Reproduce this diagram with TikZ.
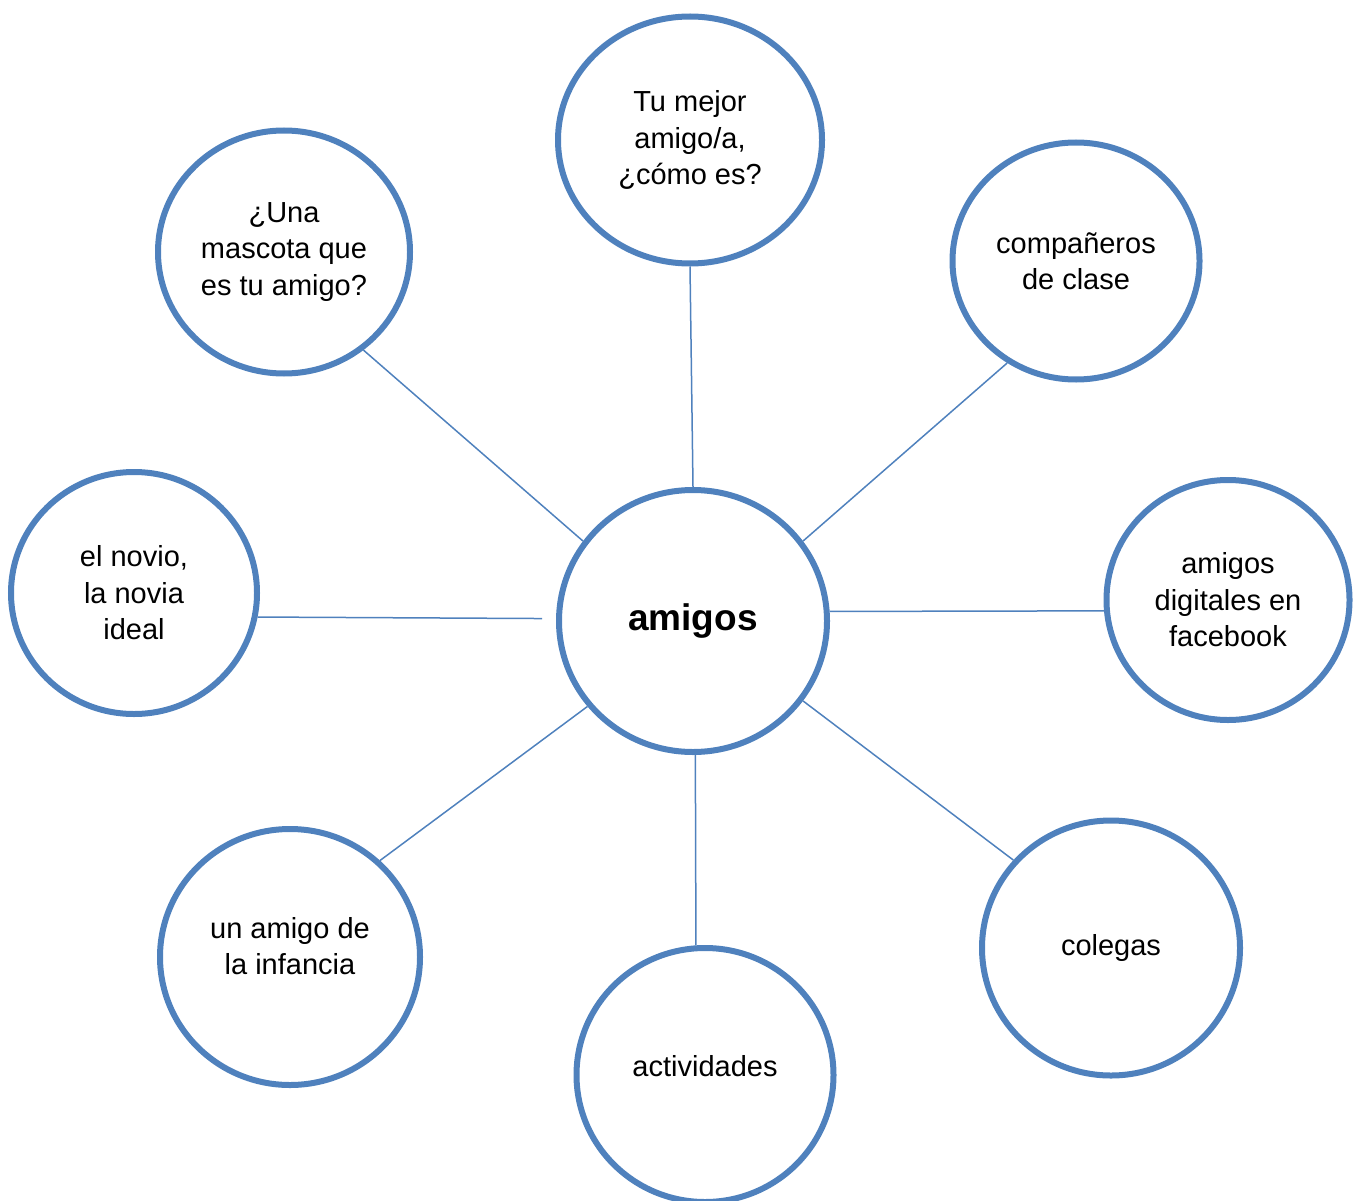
\documentclass[tikz,border=0pt]{standalone}
\usepackage{fontspec}
\setmainfont{Liberation Sans}
\usepackage{tikz}
\usetikzlibrary{shapes,positioning}
\definecolor{ringblue}{HTML}{4F81BD}
\tikzstyle{bubble} = [draw=ringblue, ellipse, line width=6pt, align=center, inner sep=0,
  font=\fontsize{29}{36.5}\selectfont]
\tikzstyle{hub} = [bubble, font=\fontsize{37}{44}\selectfont\bfseries]
\tikzstyle{link} = [draw=ringblue, line width=1.5pt]

\begin{document}
\begin{tikzpicture}[x=1pt, y=-1pt]
  \useasboundingbox (0,0) rectangle (1359,1201);

  \node [hub, minimum width=268pt, minimum height=262pt] (amigos) at (693,621) {amigos};

  \node [bubble, minimum width=264pt, minimum height=247pt] (mejor) at (690,140) {Tu mejor\\amigo/a,\\¿cómo es?};
  \node [bubble, minimum width=252pt, minimum height=243pt] (mascota) at (284,252) {¿Una\\mascota que\\es tu amigo?};
  \node [bubble, minimum width=247pt, minimum height=237pt] (companeros) at (1076,261) {compañeros\\de clase};
  \node [bubble, minimum width=246pt, minimum height=242pt] (novio) at (134,593) {el novio,\\la novia\\ideal};
  \node [bubble, minimum width=243pt, minimum height=240pt] (facebook) at (1228,600) {amigos\\digitales en\\facebook};
  \node [bubble, minimum width=260pt, minimum height=256pt] (infancia) at (290,957) {un amigo de\\la infancia\\[-14.5pt]};
  \node [bubble, minimum width=257pt, minimum height=254pt] (actividades) at (705,1075) {actividades\\[-18.5pt]};
  \node [bubble, minimum width=258pt, minimum height=255pt] (colegas) at (1111,948) {colegas};

  \draw [link] (mejor.south) -- (amigos.north);
  \draw [link] (mascota.-51) -- (amigos.144);
  \draw [link] (companeros.-124.5) -- (amigos.36.4);
  \draw [link, shorten >=14pt] (novio.-11) -- (amigos.179);
  \draw [link] (facebook.185) -- (amigos.4);
  \draw [link] (infancia.47) -- (amigos.-141);
  \draw [link] (actividades.94) -- (amigos.-89);
  \draw [link] (colegas.138) -- (amigos.-36.9);
\end{tikzpicture}
\end{document}
